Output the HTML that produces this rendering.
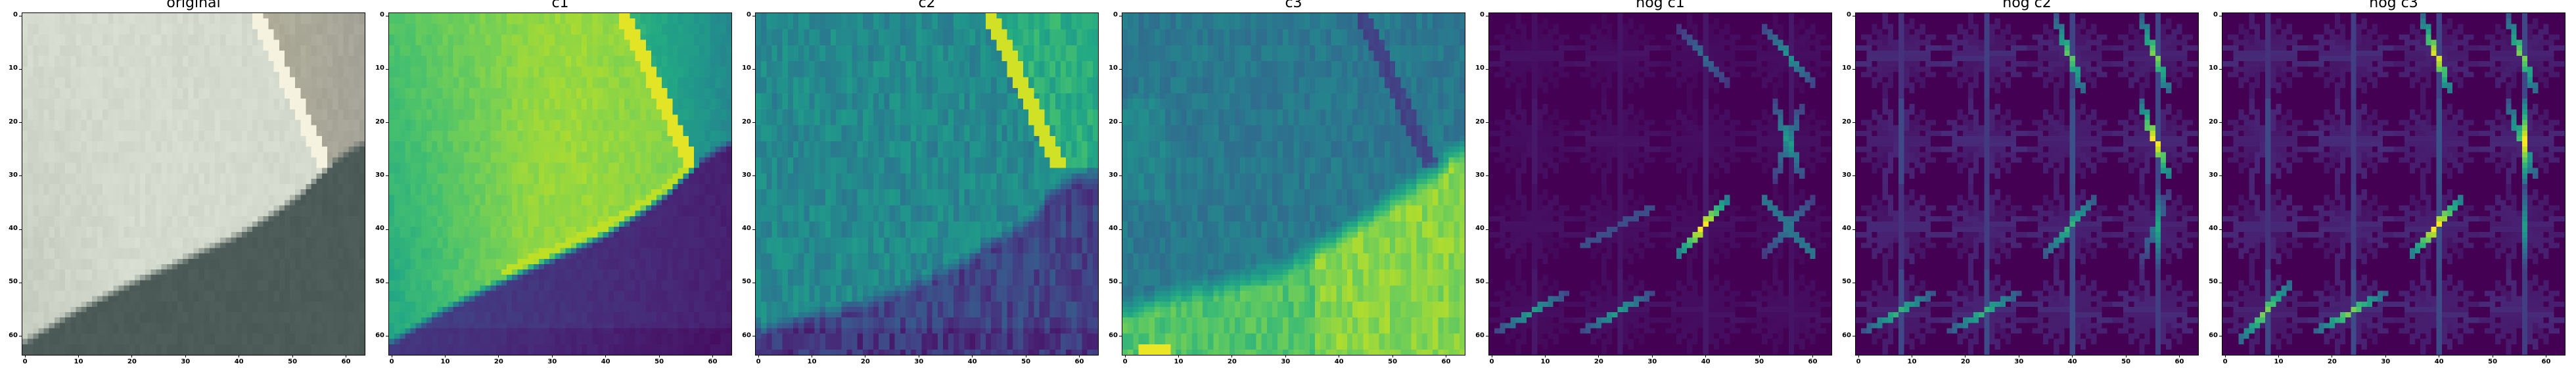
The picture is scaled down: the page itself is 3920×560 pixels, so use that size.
<!DOCTYPE html>
<html><head><meta charset="utf-8">
<style>
html,body{margin:0;padding:0;background:#fff;}
body{width:3920px;height:560px;position:relative;overflow:hidden;font-family:"DejaVu Sans","Liberation Sans",sans-serif;}
.panel{position:absolute;top:20px;width:521px;height:520px;}
.panel canvas{position:absolute;left:0;top:0;width:521px;height:520px;image-rendering:pixelated;}
.frame{position:absolute;left:-1px;top:-1px;width:521px;height:520px;border:1px solid #000;pointer-events:none;}
.title{position:absolute;top:-28px;left:0;width:521px;text-align:center;font-size:22px;color:#000;white-space:nowrap;}
.tick{position:absolute;background:#000;}
.tl{position:absolute;font-size:10px;font-weight:bold;color:#000;white-space:nowrap;}
</style></head><body>
<script>
// ---- data arrays ----
const panelTitles = ["original","c1","c2","c3","hog c1","hog c2","hog c3"];
const tickValues = [0,10,20,30,40,50,60];
// dark-region boundary (col, row)
const boundaryCols = [0,10,20,30,40,48,52,55,58,61,63];
const boundaryRows = [61,55,50,45.5,41,36,33,30,27,25,24];
const c2BoundaryRows = [59,56,54,50,45,40,37,33,31,30,30];
const c3BoundaryRows = [55,52,50,47,41,36,33,31,29,26,25];
// hog block orientation weights (k*20deg from vertical)
const hogBaseC1 = [0.06,0.03,0.03,0.03,0.04,0.04,0.03,0.03,0.03];
const hogBaseC2 = [0.2,0.08,0.07,0.08,0.1,0.1,0.08,0.07,0.08];
// strong orientations: [blockCol, blockRow, k, weight]
const hogStrongC1 = [[2,0,7,0.35],[3,0,7,0.5],[3,1,1,0.45],[3,1,8,0.55],[1,2,3,0.3],[2,2,2,1.0],[3,2,2,0.4],[3,2,7,0.3],[0,3,3,0.55],[1,3,3,0.55]];
const hogStrongC2 = [[2,0,8,0.75],[3,0,8,0.8],[3,1,8,1.0],[2,2,2,0.65],[3,2,0,0.6],[3,2,1,0.4],[0,3,3,0.65],[1,3,3,0.65]];
const hogStrongC3 = [[2,0,8,0.95],[3,0,8,0.8],[3,1,0,1.0],[3,1,8,0.7],[2,2,2,1.0],[3,2,0,0.55],[0,3,2,0.8],[1,3,3,0.8]];

const vir = ["#440154","#482475","#414487","#355f8d","#2a788e","#21918c","#22a884","#44bf70","#7ad151","#bddf26","#fde725"].map(h=>[parseInt(h.slice(1,3),16),parseInt(h.slice(3,5),16),parseInt(h.slice(5,7),16)]);
function viridis(v){v=Math.max(0,Math.min(1,v))*10;const i=Math.min(9,Math.floor(v)),f=v-i;return vir[i].map((c,j)=>c+(vir[i+1][j]-c)*f);}
function interp(xs,ys,x){for(let i=0;i<xs.length-1;i++){if(x<=xs[i+1]){const f=(x-xs[i])/(xs[i+1]-xs[i]);return ys[i]+(ys[i+1]-ys[i])*f;}}return ys[ys.length-1];}
function hash(a,b,s){let h=(a*374761393+b*668265263+s*982451653)|0;h=(h^(h>>>13))*1274126177|0;return ((h^(h>>>16))>>>0)/4294967295;}
function clamp(v){return Math.max(0,Math.min(1,v));}
function stripeX(y){return 43.5+y*(56-43.5)/28;}

function fieldOriginal(x,y){
  const t=clamp((y-interp(boundaryCols,boundaryRows,x))/1.8+0.5);
  const n=(hash(x,Math.floor(y/2),1)-0.5)*10;
  let light=[212+n,218+n,205+n];
  light=light.map(c=>c-(x<20?(y/64)*(20-x)*0.8:0));
  const sd=x-stripeX(y);
  if(y<30){
    if(Math.abs(sd)<1.4) light=[246,242,224];
    else if(sd>=1.4) light=[172+n-(x-50)*0.5,170+n-(x-50)*0.5,152+n];
  }
  const dark=[76+n*0.6,90+n*0.6,88+n*0.6];
  return light.map((c,i)=>c*(1-t)+dark[i]*t);
}
function fieldC1(x,y){
  const b=interp(boundaryCols,boundaryRows,x);
  const t=clamp((y-b)/1.8+0.5);
  const n=(hash(x,Math.floor(y/2),2)-0.5)*0.05;
  let L=0.85-(x<25?(25-x)/25*0.14*(0.4+y/64):0)-Math.abs(x-34)*0.002+n;
  if(b-y<2.5&&b-y>0&&x>20) L=0.9;
  const sd=x-stripeX(y);
  if(y<30){ if(Math.abs(sd)<1.4) L=0.96; else if(sd>=1.4) L=0.6+n-(x-50)*0.01; }
  const D=0.2-x*0.0018+n*0.6-(y>58?0.04:0);
  return L*(1-t)+D*t;
}
function fieldC2(x,y){
  const b=interp(boundaryCols,c2BoundaryRows,x);
  const t=clamp((y-b)/3+0.5);
  const n=(hash(x,Math.floor(y/3),3)-0.5)*0.14;
  let L=0.47+n;
  const sd=x-stripeX(y);
  if(y<29){ if(Math.abs(sd)<1.5) L=0.93; else if(sd>=1.5) L=0.62+n; }
  const D=0.2+n*1.2-(y>58?0.05:0);
  return L*(1-t)+D*t;
}
function fieldC3(x,y){
  const b=interp(boundaryCols,c3BoundaryRows,x);
  const t=clamp((y-b)/5+0.5);
  const n=(hash(x,Math.floor(y/3),4)-0.5)*0.1;
  let L=0.4+n+(x<8&&y>15&&y<35?0.05:0);
  const sd=x-stripeX(y)-1;
  if(y<29&&Math.abs(sd)<1.5) L=0.2+n*0.5;
  let D=(x>35?0.82:0.72)+n*1.2;
  if(y>61&&x>2&&x<9) D=0.97;
  return L*(1-t)+D*t;
}
function hogField(base,strong){
  const g=new Float32Array(64*64);
  for(let bj=0;bj<4;bj++)for(let bi=0;bi<4;bi++){
    const cx=bi*16+8,cy=bj*16+8;
    const w=base.slice();
    strong.forEach(s=>{if(s[0]===bi&&s[1]===bj)w[s[2]]=Math.max(w[s[2]],s[3]);});
    for(let k=0;k<9;k++){
      const a=k*20*Math.PI/180,dx=Math.sin(a),dy=-Math.cos(a);
      const jit=0.7+0.6*hash(bi*4+bj,k,7);
      const wk=w[k]*(w[k]>0.3?1:jit);
      for(let s=-7.5;s<=7.5;s+=0.2){
        const px=Math.floor(cx+s*dx),py=Math.floor(cy+s*dy);
        if(px<0||py<0||px>63||py>63)continue;
        const fall=w[k]>0.3?(1-Math.abs(s)/7.5*0.65):1;
        const i=py*64+px;g[i]=Math.max(g[i],wk*fall);
      }
    }
  }
  return g;
}

const fields=[fieldOriginal,fieldC1,fieldC2,fieldC3];
const hogs=[hogField(hogBaseC1,hogStrongC1),hogField(hogBaseC2,hogStrongC2),hogField(hogBaseC2,hogStrongC3)];

for(let p=0;p<7;p++){
  const left=34+558*p;
  const panel=document.createElement('div');
  panel.className='panel';panel.style.left=left+'px';
  
  
  const cv=document.createElement('canvas');cv.width=64;cv.height=64;
  
  
  const ctx=cv.getContext('2d');const img=ctx.createImageData(64,64);
  for(let y=0;y<64;y++)for(let x=0;x<64;x++){
    let c;
    if(p===0)c=fieldOriginal(x,y);
    else if(p<4)c=viridis(fields[p](x,y));
    else c=viridis(hogs[p-4][y*64+x]);
    const i=(y*64+x)*4;img.data[i]=c[0];img.data[i+1]=c[1];img.data[i+2]=c[2];img.data[i+3]=255;
  }
  ctx.putImageData(img,0,0);
  panel.appendChild(cv);
  const fr=document.createElement('div');fr.className='frame';
  
  
  panel.appendChild(fr);
  const ti=document.createElement('div');ti.className='title';ti.textContent=panelTitles[p];
  
  
  panel.appendChild(ti);
  tickValues.forEach(v=>{
    const pos=(v+0.5)*521/64;
    const tx=document.createElement('div');tx.className='tick';
    tx.style.cssText='left:'+(pos-0.5)+'px;top:520px;width:1px;height:4px;';
    
    
    panel.appendChild(tx);
    const lx=document.createElement('div');lx.className='tl';lx.textContent=v;
    lx.style.cssText='left:'+(pos-15)+'px;top:525px;width:30px;text-align:center;';
    
    
    panel.appendChild(lx);
    const ty=document.createElement('div');ty.className='tick';
    ty.style.cssText='left:-5px;top:'+(pos*520/521-0.5)+'px;width:4px;height:1px;';
    
    
    panel.appendChild(ty);
    const ly=document.createElement('div');ly.className='tl';ly.textContent=v;
    ly.style.cssText='right:528px;top:'+(pos*520/521-7)+'px;text-align:right;';
    
    
    panel.appendChild(ly);
  });
  document.body.appendChild(panel);
}
</script>
</body></html>
